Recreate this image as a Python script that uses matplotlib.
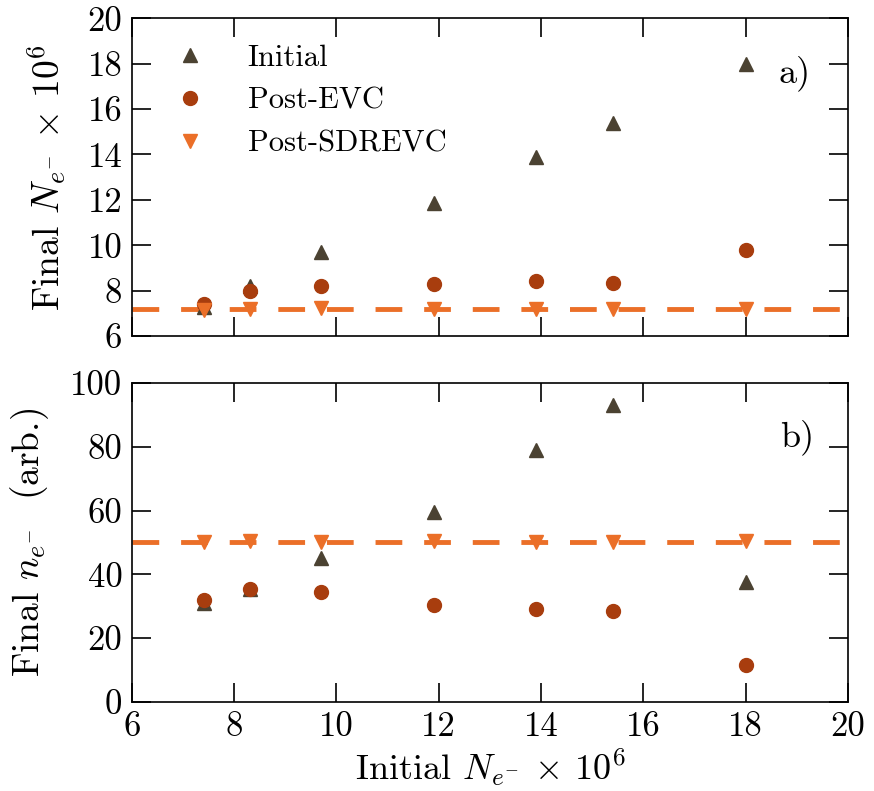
import matplotlib
matplotlib.use("Agg")
import matplotlib.pyplot as plt

# data
initial_N = [7.4, 8.3, 9.7, 11.9, 13.9, 15.4, 18.0]

final_N_initial = [7.3, 8.2, 9.7, 11.85, 13.9, 15.4, 18.0]
final_N_evc = [7.4, 8.0, 8.2, 8.3, 8.45, 8.35, 9.8]
final_N_sdrevc = [7.15, 7.2, 7.25, 7.2, 7.2, 7.2, 7.2]
target_N = 7.2

final_n_initial = [31.0, 35.5, 45.0, 59.5, 79.0, 93.0, 37.5]
final_n_evc = [32.0, 35.5, 34.5, 30.5, 29.0, 28.5, 11.5]
final_n_sdrevc = [50.0, 50.5, 50.0, 50.5, 50.0, 50.0, 50.5]
target_n = 50.0

c_init = "#4b4232"
c_evc = "#a83d0e"
c_sdr = "#eb6f28"

plt.rcParams["font.family"] = "serif"
plt.rcParams["font.serif"] = ["cmr10", "DejaVu Serif"]
plt.rcParams["mathtext.fontset"] = "cm"
plt.rcParams["axes.unicode_minus"] = False

fig = plt.figure(figsize=(8.74, 7.91), dpi=100)
ax1 = fig.add_axes([0.151, 0.575, 0.819, 0.402])
ax2 = fig.add_axes([0.151, 0.1125, 0.819, 0.4035])


def style_axis(ax):
    ax.tick_params(direction="in", top=True, right=True, length=14, width=1.2,
                   labelsize=25, pad=7)
    for s in ax.spines.values():
        s.set_linewidth(1.2)
    ax.set_xlim(6, 20)
    ax.set_xticks(range(6, 21, 2))


ms = 10
dash = (5.5, 4.5)
# top panel
ax1.axhline(target_N, color=c_sdr, lw=3.5, dashes=dash, zorder=1)
ax1.plot(initial_N, final_N_initial, "^", color=c_init, ms=ms, ls="none", label="Initial", zorder=2)
ax1.plot(initial_N, final_N_evc, "o", color=c_evc, ms=ms, ls="none", label="Post-EVC", zorder=3)
ax1.plot(initial_N, final_N_sdrevc, "v", color=c_sdr, ms=ms, ls="none", label="Post-SDREVC", zorder=4)
style_axis(ax1)
ax1.set_ylim(6, 20)
ax1.set_yticks(range(6, 21, 2))
ax1.tick_params(labelbottom=False)
ax1.set_ylabel(r"Final $N_{e^{-}}$ $\times$ $10^6$", fontsize=27, labelpad=14)
ax1.text(18.95, 17.6, "a)", fontsize=26, ha="center", va="center")
ax1.legend(loc="upper left", frameon=False, fontsize=22, handletextpad=1.3,
           handlelength=1.2, borderaxespad=0.3, labelspacing=0.5,
           bbox_to_anchor=(0.025, 0.985))

# bottom panel
ax2.axhline(target_n, color=c_sdr, lw=3.5, dashes=dash, zorder=1)
ax2.plot(initial_N, final_n_initial, "^", color=c_init, ms=ms, ls="none", zorder=2)
ax2.plot(initial_N, final_n_evc, "o", color=c_evc, ms=ms, ls="none", zorder=3)
ax2.plot(initial_N, final_n_sdrevc, "v", color=c_sdr, ms=ms, ls="none", zorder=4)
style_axis(ax2)
ax2.set_ylim(0, 100)
ax2.set_yticks(range(0, 101, 20))
ax2.set_ylabel(r"Final $n_{e^{-}}$  (arb.)", fontsize=27, labelpad=14)
ax2.set_xlabel(r"Initial $N_{e^{-}}$ $\times$ $10^6$", fontsize=26, labelpad=2)
ax2.text(19.0, 83, "b)", fontsize=26, ha="center", va="center")

fig.savefig("out.png", dpi=100)
